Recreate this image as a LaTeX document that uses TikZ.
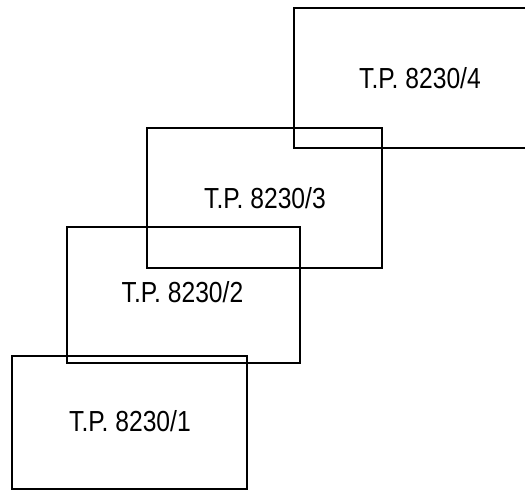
\documentclass[tikz,border=0pt]{standalone}
\usepackage{fontspec}
\setmainfont{Liberation Sans}
\begin{document}
\begin{tikzpicture}[x=1pt,y=-1pt,
  box/.style={draw=black, line width=1.3pt, inner sep=0pt},
  thickbox/.style={box, line width=1.8pt},
  lab/.style={font=\fontsize{29}{31}\selectfont, inner sep=0pt, anchor=base}]
\useasboundingbox (0,0) rectangle (525,493);
\clip (0,0) rectangle (525,493);
\node[box, minimum width=235pt, minimum height=133pt] (b1) at (129.5,422.5) {};
\node[box, minimum width=233pt, minimum height=136pt] (b2) at (183.5,295) {};
\node[box, minimum width=235pt, minimum height=140pt] (b3) at (264.5,198) {};
\node[thickbox, minimum width=266pt, minimum height=140pt] (b4) at (427,78) {};
\node[lab] (t1) at (130,431) {\scalebox{0.85}[1]{T.P. 8230/1}};
\node[lab] (t2) at (182.5,302) {\scalebox{0.85}[1]{T.P. 8230/2}};
\node[lab] (t3) at (265,208) {\scalebox{0.85}[1]{T.P. 8230/3}};
\node[lab] (t4) at (420,88) {\scalebox{0.85}[1]{T.P. 8230/4}};
\end{tikzpicture}
\end{document}
